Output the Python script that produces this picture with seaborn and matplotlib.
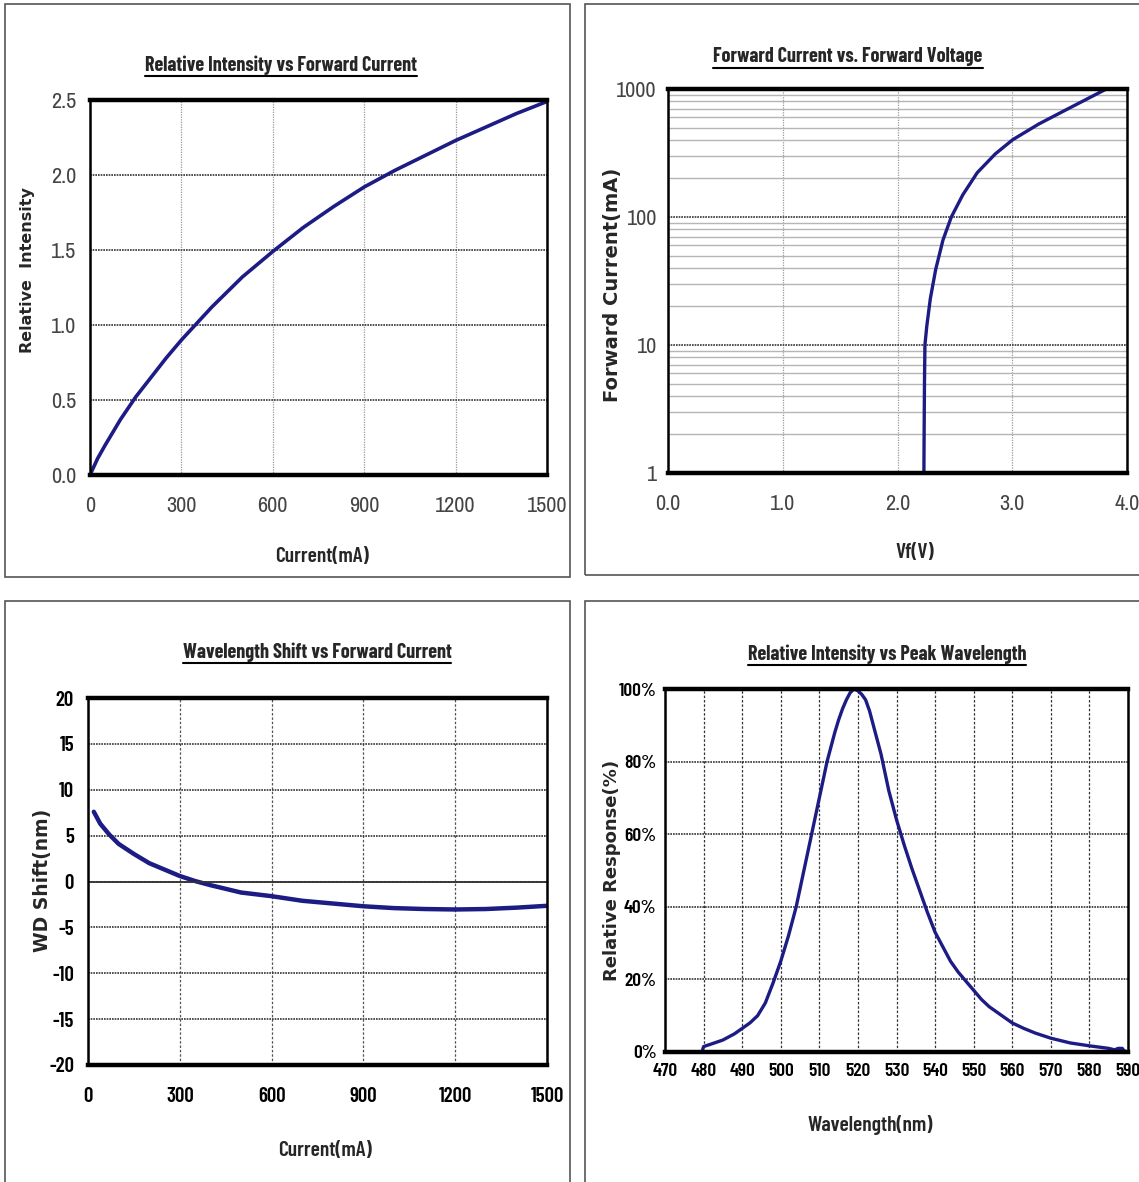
import matplotlib
matplotlib.use("Agg")
import matplotlib.pyplot as plt
import numpy as np
import pandas as pd
import seaborn as sns
from matplotlib.lines import Line2D
from matplotlib.patches import Rectangle
from matplotlib.ticker import LogLocator, NullFormatter

# Data
# Relative intensity vs forward current
ri_current = [0, 25, 50, 100, 150, 200, 250, 300, 400, 500, 600, 700, 800, 900, 1000, 1100, 1200, 1300, 1400, 1500]
ri_value = [0.0, 0.11, 0.2, 0.37, 0.52, 0.65, 0.78, 0.9, 1.12, 1.32, 1.49, 1.65, 1.79, 1.92, 2.03, 2.13, 2.23, 2.32, 2.41, 2.49]

# Forward current vs forward voltage
fv_volt = [2.23, 2.232, 2.235, 2.239, 2.255, 2.286, 2.333, 2.396, 2.469, 2.569, 2.695, 2.852, 3.003, 3.23, 3.48, 3.82]
fv_curr = [1, 2, 5, 10, 14, 23, 39, 66, 100, 149, 222, 311, 401, 532, 696, 1000]

# Wavelength shift vs forward current
ws_current = [19, 40, 70, 100, 150, 200, 250, 300, 350, 400, 500, 600, 700, 800, 900, 1000, 1100, 1200, 1300, 1400, 1500]
ws_shift = [7.6, 6.3, 5.1, 4.1, 3.0, 2.0, 1.3, 0.6, 0.05, -0.4, -1.2, -1.6, -2.1, -2.4, -2.7, -2.9, -3.0, -3.05, -3.0, -2.85, -2.65]

# Relative response vs wavelength
sp_wave = [470, 479.6, 480, 482, 485, 488, 490, 492, 494, 496, 498, 500, 502, 504, 506, 508, 510, 512, 513, 514,
           515, 516, 517, 518, 519, 520, 521, 522, 523, 524, 525, 526, 527, 528, 529, 530, 532, 534, 536, 538,
           540, 542, 544, 546, 548, 550, 552, 554, 556, 558, 560, 563, 566, 570, 575, 580, 585, 586.5, 587.5,
           588.5, 589, 590]
sp_resp = [0, 0, 1.5, 2.2, 3.3, 5, 6.5, 8, 10, 13.5, 19, 25, 32, 40, 50, 60, 70, 80, 84, 88,
           91.5, 94.5, 97, 99, 100, 99.5, 98.5, 97, 94, 90, 86, 82, 77, 72, 68, 64, 57, 50.5, 44.5, 38.5,
           33, 29, 25, 22, 19.5, 17, 14.5, 12.5, 11, 9.5, 8, 6.5, 5.2, 3.8, 2.5, 1.7, 1.0, 0.6, 1.0,
           1.0, 0.3, 0]

W, H = 1139, 1182
sns.set_theme(style="white")
plt.rcParams['font.family'] = ['Archivo Narrow', 'Barlow Condensed', 'DejaVu Sans']
plt.rcParams['axes.unicode_minus'] = False
fig = plt.figure(figsize=(W / 100, H / 100), dpi=100)

LINE = "#1c1c84"
NARROW = ['Archivo Narrow', 'Barlow Condensed', 'DejaVu Sans']
NARROW_B = ['Barlow Condensed', 'DejaVu Sans']
WIDE = ['DejaVu Sans']


def px_axes(l, t, r, b):
    return fig.add_axes([l / W, 1 - b / H, (r - l) / W, (b - t) / H])


def frame(ax):
    for s in ["top", "bottom"]:
        ax.spines[s].set_linewidth(3.2)
        ax.spines[s].set_color("black")
    for s in ["left", "right"]:
        ax.spines[s].set_linewidth(1.8)
        ax.spines[s].set_color("black")
    ax.tick_params(which="both", length=0)


def panel_box(l, t, r, b):
    fig.patches.append(Rectangle((l / W, 1 - b / H), (r - l) / W, (b - t) / H,
                                 transform=fig.transFigure, fill=False,
                                 edgecolor="#555555", linewidth=1.2))


titles = []


def title(text, x, y):
    t = fig.text(x / W, 1 - y / H, text, ha="center", va="center",
                 fontsize=14.5, fontweight="bold", family=NARROW_B)
    titles.append(t)


def ticks_font(ax, bold, size, color, xpad, ypad):
    fam = NARROW_B if bold else NARROW
    for lab in ax.get_xticklabels() + ax.get_yticklabels():
        lab.set_family(fam)
        lab.set_fontsize(size)
        lab.set_fontweight("semibold" if bold else "normal")
        lab.set_color(color)
    ax.tick_params(axis="x", pad=xpad)
    ax.tick_params(axis="y", pad=ypad)


def labels(ax, xl, xpos, yl, ypos, ysize):
    ax.set_xlabel(xl, fontsize=15.5, fontweight="semibold", family=NARROW_B)
    ax.set_ylabel(yl, fontsize=ysize, fontweight="bold", family=WIDE)
    ax.xaxis.set_label_coords(*xpos)
    ax.yaxis.set_label_coords(*ypos)
    ax.xaxis.label.set_va("center")
    ax.yaxis.label.set_va("center")


panel_box(5, 4, 570, 577)
panel_box(585, 4, 1150, 575)
panel_box(5, 601, 570, 1190)
panel_box(585, 601, 1150, 1190)

# Top-left
ax1 = px_axes(90, 100, 547, 475)
sns.lineplot(x=ri_current, y=ri_value, ax=ax1, color=LINE, linewidth=2.6)
ax1.set_xlim(0, 1500)
ax1.set_ylim(0, 2.5)
ax1.set_xticks(range(0, 1501, 300))
ax1.set_yticks(np.arange(0, 2.51, 0.5))
ax1.set_yticklabels(["0.0", "0.5", "1.0", "1.5", "2.0", "2.5"])
ax1.grid(axis="x", color="#9a9a9a", linestyle=(0, (1, 1)), linewidth=0.9)
ax1.grid(axis="y", color="#333333", linestyle=(0, (1, 0.6)), linewidth=1.2)
frame(ax1)
ticks_font(ax1, False, 16, "#444444", 15, 10)
labels(ax1, "Current(mA)", (0.508, -0.216), "Relative  Intensity", (-0.136, 0.547), 11.5)
title("Relative Intensity vs Forward Current", 281, 65)

# Top-right
ax2 = px_axes(668, 89, 1127, 473)
sns.lineplot(x=fv_volt, y=fv_curr, ax=ax2, color=LINE, linewidth=2.4, sort=False)
ax2.set_yscale("log")
ax2.set_xlim(0, 4)
ax2.set_ylim(1, 1000)
ax2.set_xticks([0, 1, 2, 3, 4])
ax2.set_xticklabels(["0.0", "1.0", "2.0", "3.0", "4.0"])
ax2.set_yticks([1, 10, 100, 1000])
ax2.set_yticklabels(["1", "10", "100", "1000"])
ax2.yaxis.set_minor_locator(LogLocator(base=10, subs=np.arange(2, 10)))
ax2.yaxis.set_minor_formatter(NullFormatter())
ax2.grid(axis="x", color="#9a9a9a", linestyle=(0, (1, 1)), linewidth=0.9)
ax2.grid(axis="y", which="major", color="#333333", linestyle=(0, (1, 0.6)), linewidth=1.2)
ax2.grid(axis="y", which="minor", color="#b5b5b5", linestyle="-", linewidth=1.0)
frame(ax2)
ticks_font(ax2, False, 16, "#444444", 15, 8)
labels(ax2, "Vf(V)", (0.538, -0.208), "Forward Current(mA)", (-0.122, 0.49), 14)
title("Forward Current vs. Forward Voltage", 848, 57)

# Bottom-left
ax3 = px_axes(88, 698, 547, 1065)
sns.lineplot(x=ws_current, y=ws_shift, ax=ax3, color=LINE, linewidth=3.2)
ax3.set_xlim(0, 1500)
ax3.set_ylim(-20, 20)
ax3.set_xticks(range(0, 1501, 300))
ax3.set_yticks(range(-20, 21, 5))
ax3.grid(axis="x", color="#555555", linestyle=(0, (2, 1.5)), linewidth=0.9)
ax3.grid(axis="y", color="#333333", linestyle=(0, (1, 0.6)), linewidth=1.2)
ax3.axhline(0, color="#333333", linewidth=1.3)
frame(ax3)
ticks_font(ax3, True, 15, "black", 16, 10)
labels(ax3, "Current(mA)", (0.516, -0.232), "WD Shift(nm)", (-0.10, 0.504), 13.5)
title("Wavelength Shift vs Forward Current", 317, 652)

# Bottom-right
ax4 = px_axes(665, 689, 1128, 1052)
sns.lineplot(x=sp_wave, y=sp_resp, ax=ax4, color=LINE, linewidth=2.4)
ax4.set_xlim(470, 590)
ax4.set_ylim(0, 100)
ax4.set_xticks(range(470, 591, 10))
ax4.set_yticks(range(0, 101, 20))
ax4.set_yticklabels([f"{v}%" for v in range(0, 101, 20)])
ax4.grid(axis="x", color="#333333", linestyle=(0, (2, 1.5)), linewidth=0.9)
ax4.grid(axis="y", color="#333333", linestyle=(0, (1, 0.6)), linewidth=1.2)
frame(ax4)
ticks_font(ax4, True, 14, "black", 8, 6)
labels(ax4, "Wavelength(nm)", (0.443, -0.201), "Relative Response(%)", (-0.114, 0.50), 13)
title("Relative Intensity vs Peak Wavelength", 887, 654)

# underline the titles
fig.canvas.draw()
rend = fig.canvas.get_renderer()
for t in titles:
    bb = t.get_window_extent(rend)
    y = (bb.y0 - 1) / H
    fig.lines.append(Line2D([bb.x0 / W, bb.x1 / W], [y, y], transform=fig.transFigure,
                            color="black", linewidth=1.5))

fig.savefig("out.png", dpi=100)
